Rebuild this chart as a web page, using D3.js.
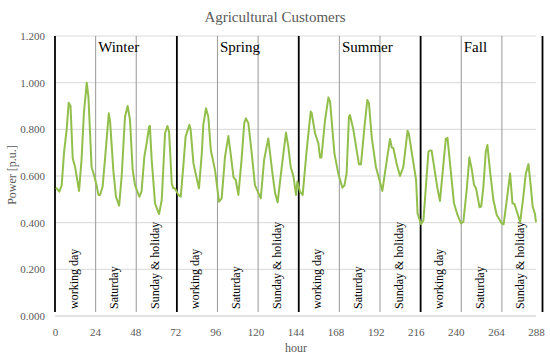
<!DOCTYPE html>
<html>
<head>
<meta charset="utf-8">
<script src="https://cdn.jsdelivr.net/npm/d3@7"></script>
<style>
	body { margin: 0; background: #fff; }
	text { font-family: "Liberation Serif", "DejaVu Serif", serif; }
</style>
</head>
<body>
<script>
// hourly load in p.u., [hour, value]
const winterLoad = [
	[0.6, 0.55], [2.6, 0.533], [4.0, 0.56], [5.4, 0.7], [7.0, 0.8], [8.2, 0.914], [9.3, 0.9],
	[10.6, 0.676], [12.0, 0.64], [14.4, 0.536], [15.9, 0.67], [17.3, 0.87], [19.0, 1.0], [20.0, 0.94],
	[21.9, 0.64], [23.5, 0.6], [24.9, 0.56], [26.0, 0.519], [27.0, 0.519], [28.5, 0.554], [29.9, 0.669],
	[32.2, 0.869], [33.0, 0.833], [34.9, 0.626], [36.5, 0.511], [38.4, 0.473], [39.9, 0.597], [41.9, 0.854],
	[43.5, 0.9], [44.9, 0.84], [46.5, 0.626], [47.9, 0.561], [50.5, 0.511], [51.8, 0.533], [53.5, 0.683],
	[55.1, 0.75], [56.3, 0.811], [56.8, 0.815], [57.9, 0.669], [59.9, 0.483], [62.3, 0.437], [63.9, 0.497],
	[65.9, 0.783], [67.3, 0.814], [68.3, 0.79], [69.9, 0.569], [70.8, 0.547], [71.8, 0.547],
];
const springLoad = [
	[73.9, 0.519], [75.3, 0.511], [76.8, 0.64], [78.2, 0.769], [80.5, 0.819], [81.2, 0.8], [82.9, 0.654],
	[84.2, 0.611], [86.2, 0.547], [87.9, 0.697], [88.8, 0.819], [90.4, 0.89], [91.8, 0.854], [93.3, 0.711],
	[95.8, 0.626], [98.2, 0.49], [99.8, 0.504], [101.8, 0.683], [103.8, 0.771], [105.4, 0.683], [106.9, 0.594],
	[108.2, 0.583], [109.8, 0.519], [111.7, 0.669], [113.3, 0.826], [114.3, 0.847], [115.8, 0.826],
	[117.8, 0.697], [119.7, 0.561], [123.2, 0.504], [125.2, 0.669], [127.7, 0.761], [130.2, 0.611],
	[131.8, 0.526], [133.3, 0.487], [135.8, 0.64], [138.3, 0.786], [139.7, 0.726], [141.1, 0.64],
	[142.8, 0.597], [144.3, 0.519], [145.1, 0.576],
];
const summerLoad = [
	[146.7, 0.533], [148.3, 0.519], [150.7, 0.711], [153.1, 0.876], [153.7, 0.87], [155.7, 0.783],
	[157.7, 0.74], [158.7, 0.679], [159.5, 0.679], [161.7, 0.84], [163.7, 0.937], [164.7, 0.919],
	[167.3, 0.697], [169.6, 0.611], [172.1, 0.55], [173.3, 0.56], [174.6, 0.611], [176.0, 0.854],
	[176.6, 0.861], [178.7, 0.797], [180.6, 0.711], [182.0, 0.65], [183.2, 0.65], [185.3, 0.811],
	[187.0, 0.926], [188.0, 0.911], [189.6, 0.769], [192.1, 0.64], [196.0, 0.536], [198.7, 0.669],
	[200.6, 0.759], [201.6, 0.723], [202.6, 0.719], [204.5, 0.654], [206.6, 0.6], [208.6, 0.64],
	[211.1, 0.794], [211.9, 0.78], [214.0, 0.683], [216.2, 0.583], [217.1, 0.44], [219.2, 0.393],
];
const fallLoad = [
	[220.6, 0.41], [223.6, 0.704], [224.5, 0.709], [225.5, 0.709], [227.6, 0.611], [229.0, 0.547],
	[230.5, 0.493], [232.6, 0.654], [234.0, 0.759], [235.0, 0.764], [236.9, 0.626], [238.9, 0.483],
	[241.0, 0.433], [243.1, 0.397], [244.5, 0.404], [246.5, 0.54], [248.1, 0.68], [249.6, 0.626],
	[250.9, 0.561], [252.1, 0.547], [254.2, 0.466], [255.2, 0.47], [256.5, 0.554], [257.9, 0.704],
	[258.9, 0.733], [260.4, 0.626], [262.5, 0.497], [264.5, 0.433], [267.5, 0.397], [268.6, 0.393],
	[270.5, 0.497], [272.5, 0.611], [273.9, 0.483], [275.1, 0.48], [276.9, 0.44], [278.5, 0.401],
	[280.4, 0.511], [281.9, 0.611], [283.5, 0.651], [284.9, 0.554], [286.0, 0.469], [287.4, 0.437],
	[288.0, 0.401],
];

const seasonNames = ["Winter", "Spring", "Summer", "Fall"];
const seasonStarts = [0, 72, 144, 216];
const dayTypes = ["working day", "Saturday", "Sunday & holiday"];

const xTicks = [0, 24, 48, 72, 96, 120, 144, 168, 192, 216, 240, 264, 288];
const yTicks = [0, 0.2, 0.4, 0.6, 0.8, 1.0, 1.2];

const lineColor = "#92bf4c";
const labelColor = "#595959";
const gridColor = "#d9d9d9";

const width = 550;
const height = 359;

const svg = d3
	.select("body")
	.append("svg")
	.attr("width", width)
	.attr("height", height);

const x = d3.scaleLinear().domain([0, 288]).range([55, 536]);
// day separators sit on a slightly wider secondary scale in the original
const xSep = d3.scaleLinear().domain([0, 288]).range([55, 542.5]);
const y = d3.scaleLinear().domain([0, 1.2]).range([316, 36]);

// title
svg
	.append("text")
	.attr("x", 275)
	.attr("y", 22)
	.attr("text-anchor", "middle")
	.style("font-size", "15px")
	.style("fill", labelColor)
	.text("Agricultural Customers");

// horizontal gridlines
svg
	.append("g")
	.selectAll("line")
	.data(yTicks.filter((d) => d > 0))
	.join("line")
	.attr("x1", 55)
	.attr("x2", 536)
	.attr("y1", (d) => y(d))
	.attr("y2", (d) => y(d))
	.style("stroke", gridColor)
	.style("stroke-width", 1);

// bottom axis line
svg
	.append("line")
	.attr("x1", 55)
	.attr("x2", 536)
	.attr("y1", y(0))
	.attr("y2", y(0))
	.style("stroke", gridColor)
	.style("stroke-width", 1.5);

// y axis labels
const yAxis = svg
	.append("g")
	.attr("transform", "translate(55,0)")
	.call(d3.axisLeft(y).tickValues(yTicks).tickSize(0).tickPadding(10).tickFormat(d3.format(".3f")));
yAxis.select(".domain").remove();
yAxis
	.selectAll("text")
	.style("font-size", "11px")
	.style("font-family", "'Liberation Serif', serif")
	.style("fill", labelColor);

// x axis labels
const xAxis = svg
	.append("g")
	.attr("transform", `translate(0,${y(0)})`)
	.call(d3.axisBottom(x).tickValues(xTicks).tickSize(0).tickPadding(12));
xAxis.select(".domain").remove();
xAxis
	.selectAll("text")
	.style("font-size", "11px")
	.style("font-family", "'Liberation Serif', serif")
	.style("fill", labelColor);

// axis titles
svg
	.append("text")
	.attr("x", 296)
	.attr("y", 352)
	.attr("text-anchor", "middle")
	.style("font-size", "12px")
	.style("fill", labelColor)
	.text("hour");

svg
	.append("text")
	.attr("transform", "translate(16,175) rotate(-90)")
	.attr("text-anchor", "middle")
	.style("font-size", "12px")
	.style("fill", labelColor)
	.text("Power [p.u.]");

// day separators: black between seasons, gray between day types
svg
	.append("g")
	.selectAll("line")
	.data(d3.range(0, 289, 24))
	.join("line")
	.attr("x1", (d) => xSep(d))
	.attr("x2", (d) => xSep(d))
	.attr("y1", y(1.2))
	.attr("y2", 312)
	.style("stroke", (d) => (d % 72 === 0 ? "#000" : "#a0a0a0"))
	.style("stroke-width", (d) => (d % 72 === 0 ? 1.8 : 1.1));

// season labels
seasonNames.forEach((name, i) => {
	svg
		.append("text")
		.attr("x", xSep(seasonStarts[i] + 24) + 2.5)
		.attr("y", 52)
		.style("font-size", "15px")
		.style("fill", "#000")
		.text(name);
});

// day type labels, rotated
seasonStarts.forEach((start) => {
	dayTypes.forEach((day, j) => {
		const xPos = xSep(start + j * 24) + 22.5;
		svg
			.append("text")
			.attr("transform", `translate(${xPos},309) rotate(-90)`)
			.style("font-size", "12px")
			.style("fill", "#000")
			.text(day);
	});
});

// load curve
const load = winterLoad.concat(springLoad, summerLoad, fallLoad);

const line = d3
	.line()
	.x((d) => x(d[0]))
	.y((d) => y(d[1]));

svg
	.append("path")
	.datum(load)
	.attr("d", line)
	.style("fill", "none")
	.style("stroke", lineColor)
	.style("stroke-width", 2)
	.style("stroke-linejoin", "round");
</script>
</body>
</html>
